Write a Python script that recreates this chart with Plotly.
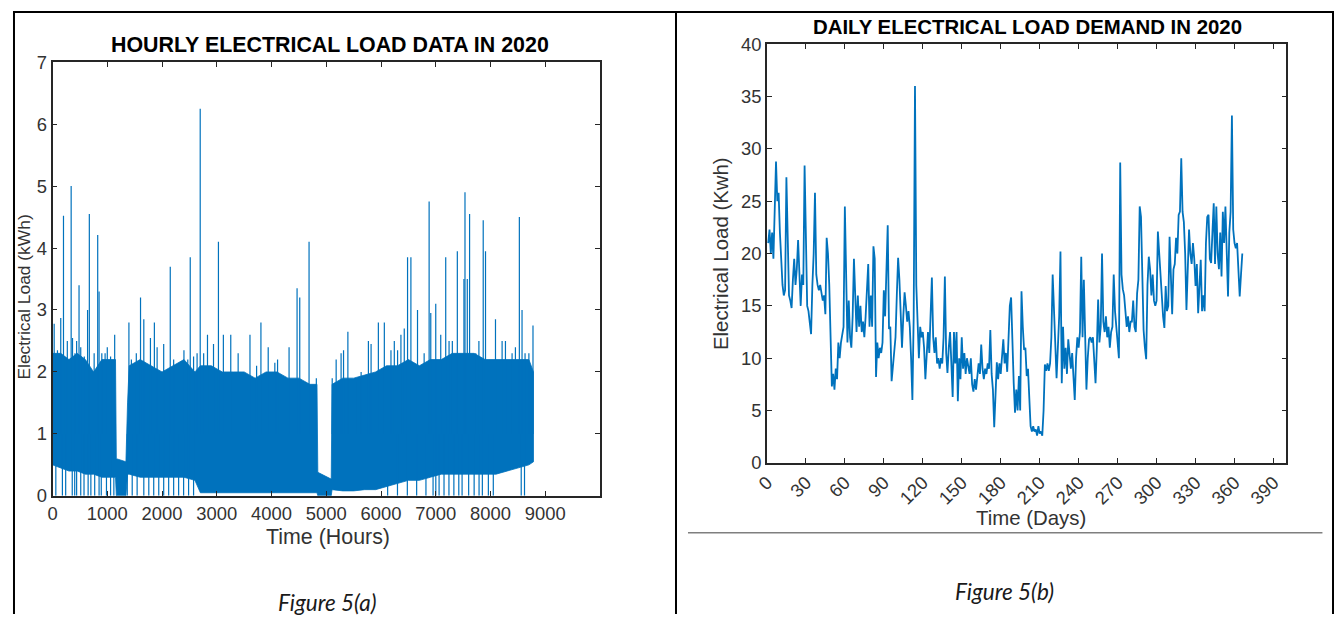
import plotly.graph_objects as go

# Observed capture: the page body keeps its default margin and the captured view is
# about 1350x640 before it is scaled to 1338x619, so target (picture) pixels are
# mapped back through that transform when positioning elements.
PAD = 8
VIEW_W, VIEW_H = 1350, 640
SX, SY = 1338 / VIEW_W, 619 / VIEW_H
SHIFT_X, SHIFT_Y = 4.5, 3.0   # residual offset measured on an earlier picture
W, H = VIEW_W - 2 * PAD, VIEW_H - 2 * PAD
FS = 2 / (SX + SY)  # font compensation for the final scaling

BLUE = "#0072BD"
AX = "#262626"
FONT = "Liberation Sans, Arial, sans-serif"

# ---------------- Figure 5(a): hourly load ----------------
band_hours = [0, 150, 300, 450, 600, 750, 900, 1050, 1150,
              1165, 1340, 1370, 1400,
              1600, 1800, 2000, 2200, 2400, 2600,
              2700, 2900, 3100, 3300, 3500, 3700, 3900, 4100, 4300, 4500, 4700,
              4830, 4845, 5090, 5105,
              5300, 5500, 5700, 5900, 6100, 6300, 6500, 6700, 6900,
              7100, 7300, 7500, 7700, 7900, 8100, 8300, 8500, 8700, 8784]
band_top = [2.3, 2.3, 2.2, 2.3, 2.2, 2.0, 2.2, 2.2, 2.2,
            0.6, 0.55, 1.5, 2.1,
            2.2, 2.1, 2.0, 2.1, 2.2, 2.0,
            2.1, 2.1, 2.0, 2.0, 2.0, 1.9, 2.0, 2.0, 1.9, 1.9, 1.8,
            1.8, 0.38, 0.27, 1.8,
            1.9, 1.9, 1.95, 2.0, 2.1, 2.1, 2.2, 2.1, 2.2,
            2.2, 2.3, 2.3, 2.3, 2.2, 2.2, 2.2, 2.2, 2.2, 2.0]
band_bottom = [0.5, 0.45, 0.4, 0.4, 0.35, 0.35, 0.3, 0.3, 0.3,
               0.0, 0.0, 0.35, 0.35,
               0.3, 0.3, 0.3, 0.3, 0.3, 0.25,
               0.05, 0.05, 0.05, 0.05, 0.05, 0.05, 0.05, 0.05, 0.05, 0.05, 0.05,
               0.05, 0.0, 0.0, 0.1,
               0.08, 0.08, 0.1, 0.1, 0.15, 0.2, 0.25, 0.25, 0.3,
               0.35, 0.35, 0.35, 0.35, 0.35, 0.35, 0.4, 0.45, 0.5, 0.55]

spike_hours = [30, 90, 150, 200, 270, 340, 365, 410, 440, 484, 515, 580, 640, 672, 760,
               825, 850, 900, 960, 1000, 1060, 1135,
               1395, 1440, 1530, 1607, 1667, 1727, 1788, 1860, 1910, 2030, 2150, 2212,
               2400, 2470, 2515, 2576, 2640, 2697, 2760, 2830, 2940, 3030, 3120, 3255,
               3390, 3606, 3727, 3806, 3939, 4060, 4110, 4320, 4466, 4515, 4685, 4818,
               5108, 5180, 5270, 5315, 5394, 5545, 5636, 5769, 5818, 5951, 6060, 6181,
               6242, 6302, 6363, 6424, 6484, 6545, 6666, 6787, 6878, 6908, 6999, 7090,
               7181, 7242, 7302, 7393, 7514, 7533, 7575, 7617, 7730, 7787, 7866, 7908,
               8090, 8211, 8272, 8393, 8454, 8526, 8575, 8630, 8700, 8775]
spike_peaks = [2.78, 2.35, 2.87, 4.52, 2.5, 5.0, 2.55, 2.3, 2.5, 3.4, 2.4, 2.25, 3.0, 4.55, 2.3,
               4.21, 3.3, 2.3, 2.3, 2.4, 2.25, 2.6,
               2.8, 2.2, 2.3, 3.2, 2.85, 2.1, 2.55, 2.8, 2.4, 2.45, 3.7, 2.2,
               2.35, 2.2, 3.85, 2.25, 2.3, 6.25, 2.3, 2.6, 2.45, 4.1, 2.6, 2.6,
               2.3, 2.6, 2.1, 2.8, 2.4, 2.15, 2.2, 2.4, 3.35, 3.2, 4.1, 1.9,
               1.9, 2.2, 2.3, 2.35, 2.65, 1.85, 2.0, 2.5, 2.45, 2.8, 2.8, 2.35,
               2.5, 2.35, 2.6, 2.7, 3.85, 3.85, 3.0, 2.3, 4.75, 2.95, 3.1, 2.6,
               3.85, 2.5, 2.5, 3.95, 3.5, 4.9, 3.5, 4.55, 2.3, 2.5, 4.45, 3.95,
               2.85, 2.5, 2.5, 2.3, 2.4, 4.5, 3.0, 2.3, 2.3, 2.75]

dip_hours = [60, 180, 240, 360, 405, 440, 515, 575, 650, 700, 770, 850, 890, 985, 1060, 1120,
             1365, 1455, 1545, 1667, 1758, 1848, 1940, 2030, 2121, 2212, 2303, 2394, 2485, 2576,
             6120, 6300, 6480, 6650, 6820, 6950,
             7000, 7060, 7150, 7240, 7330, 7420, 7480, 7600, 7700, 7790, 7850, 7960, 8050,
             8560, 8620]

hour_ticks = [0, 1000, 2000, 3000, 4000, 5000, 6000, 7000, 8000, 9000]
hourly_yticks = [0, 1, 2, 3, 4, 5, 6, 7]

# ---------------- Figure 5(b): daily load ----------------
daily_load = [
    21.0, 22.3, 20.0, 22.0, 19.5, 24.0, 28.8, 25.0, 25.8, 22.0,
    18.5, 17.0, 16.0, 16.5, 27.3, 20.0, 16.0, 15.5, 14.8, 17.5,
    19.5, 17.0, 18.5, 21.3, 17.5, 15.0, 18.0, 17.0, 28.4, 20.0,
    15.0, 14.5, 13.5, 12.3, 17.0, 20.0, 25.8, 18.0, 17.0, 16.5,
    17.0, 16.0, 15.5, 16.0, 14.2, 21.5, 20.0, 17.0, 12.0, 7.3,
    8.5, 7.0, 9.0, 8.0, 11.5, 10.0, 11.5, 12.5, 13.0, 24.5,
    18.0, 11.5, 15.5, 12.0, 11.0, 14.0, 19.5, 16.0, 12.5, 16.0,
    13.0, 15.0, 12.5, 13.5, 12.0, 14.0, 17.0, 19.0, 13.0, 16.0,
    13.0, 20.7, 19.5, 8.2, 11.5, 10.0, 11.0, 10.5, 11.5, 16.5,
    14.0, 17.5, 22.7, 12.8, 13.0, 7.8, 9.5, 10.5, 12.0, 16.0,
    19.6, 17.5, 13.5, 11.0, 14.0, 16.3, 15.0, 13.5, 14.5, 13.0,
    10.0, 6.0, 14.0, 36.0, 17.0, 12.5, 10.0, 13.0, 12.0, 12.5,
    11.0, 8.0, 11.0, 12.5, 10.5, 13.5, 17.7, 12.0, 10.5, 12.0,
    9.5, 10.0, 9.0, 10.0, 9.5, 12.0, 17.8, 10.5, 8.6, 11.0,
    12.5, 9.5, 6.3, 12.5, 9.5, 12.5, 5.9, 10.0, 8.0, 12.0,
    9.0, 10.5, 8.5, 10.0, 9.0, 8.5, 10.0, 7.5, 6.8, 8.0,
    7.0, 8.0, 9.5, 8.5, 11.3, 9.0, 8.0, 9.0, 8.5, 9.5,
    9.0, 12.7, 8.5, 7.0, 3.4, 6.5, 9.6, 8.0, 9.5, 8.5,
    10.0, 11.8, 9.5, 10.5, 8.7, 12.0, 15.0, 15.8, 11.0, 7.6,
    4.8, 7.0, 5.0, 8.3, 5.0, 16.4, 13.0, 10.8, 11.0, 8.3,
    9.0, 6.0, 3.5, 3.0, 3.5, 3.0, 3.2, 2.6, 3.5, 2.8,
    3.0, 2.6, 5.0, 9.4, 8.8, 9.5, 8.8, 9.5, 12.0, 18.0,
    14.5, 12.0, 8.1, 11.0, 14.0, 20.2, 7.6, 13.0, 9.0, 11.0,
    8.5, 11.8, 10.0, 9.0, 10.5, 8.5, 6.0, 10.0, 12.0, 11.0,
    12.5, 19.7, 12.0, 17.5, 11.0, 7.0, 10.0, 11.8, 12.0, 11.5,
    12.0, 9.5, 7.6, 11.0, 15.6, 11.5, 13.0, 20.0, 13.5, 12.5,
    14.0, 12.0, 13.0, 11.0, 12.5, 13.0, 18.0, 14.5, 13.0, 11.5,
    10.0, 28.7, 18.0, 16.6, 16.0, 14.5, 13.0, 14.0, 12.5, 13.5,
    13.5, 15.5, 13.0, 12.5, 16.2, 17.5, 24.5, 23.5, 18.0, 12.7,
    11.0, 9.9, 17.0, 19.7, 18.5, 16.0, 18.0, 15.5, 15.0, 15.5,
    22.1, 20.0, 19.0, 17.0, 14.0, 12.9, 16.9, 14.5, 15.0, 21.6,
    17.0, 14.2, 18.5, 19.0, 21.5, 20.0, 23.7, 24.0, 29.1, 24.0,
    23.0, 20.0, 14.6, 19.0, 22.3, 20.0, 19.0, 21.0, 19.5, 16.9,
    19.0, 14.3, 17.0, 19.4, 14.5, 16.0, 14.5, 21.0, 23.5, 23.7,
    19.5, 19.1, 22.0, 24.8, 19.0, 24.5, 20.0, 18.5, 22.0, 17.8,
    24.0, 21.0, 24.5, 20.0, 15.9, 22.0, 24.0, 33.2, 22.3, 21.0,
    20.5, 21.0, 18.5, 15.9, 18.0, 20.0,
]
days = list(range(1, len(daily_load) + 1))
day_ticks = list(range(0, 391, 30))
daily_yticks = list(range(0, 41, 5))

# ---------------- position helpers (target picture pixels -> paper) ----------------
def px(X):
    return min(max(((X - SHIFT_X) / SX - PAD) / W, 0.0), 1.0)

def py(Y):
    return min(max(1 - ((Y - SHIFT_Y) / SY - PAD) / H, 0.0), 1.0)

def fs(size):
    return round(size * FS, 1)

fig = go.Figure()

# hourly band (dense region of the hourly line)
fig.add_trace(go.Scatter(
    x=band_hours + band_hours[::-1],
    y=band_top + band_bottom[::-1],
    fill="toself", fillcolor=BLUE, mode="lines",
    line=dict(color=BLUE, width=0.8),
    xaxis="x", yaxis="y", hoverinfo="skip", showlegend=False))

sx, sy = [], []
for h, p in zip(spike_hours, spike_peaks):
    sx += [h, h, None]
    sy += [1.0, p, None]
for h in dip_hours:
    sx += [h, h, None]
    sy += [0.0, 1.0, None]
fig.add_trace(go.Scatter(x=sx, y=sy, mode="lines",
                         line=dict(color=BLUE, width=1.2),
                         xaxis="x", yaxis="y", showlegend=False))

# daily line
fig.add_trace(go.Scatter(x=days, y=daily_load, mode="lines",
                         line=dict(color=BLUE, width=1.8),
                         xaxis="x2", yaxis="y2", showlegend=False))

axis_common = dict(
    showgrid=False, zeroline=False, showline=True, linecolor=AX, linewidth=1.5,
    mirror="ticks", ticks="inside", ticklen=5, tickwidth=1.3, tickcolor=AX,
    tickfont=dict(family=FONT, size=fs(18), color="#333333"),
)

fig.update_layout(
    width=W, height=H,
    margin=dict(l=0, r=0, t=0, b=0),
    paper_bgcolor="white", plot_bgcolor="white",
    showlegend=False,
    xaxis=dict(domain=[px(52), px(600)], range=[0, 10000],
               tickmode="array", tickvals=hour_ticks, anchor="y", **axis_common),
    yaxis=dict(domain=[py(496), py(62)], range=[0, 7],
               tickmode="array", tickvals=hourly_yticks, anchor="x", **axis_common),
    xaxis2=dict(domain=[px(767), px(1287)], range=[0, 400],
                tickmode="array", tickvals=day_ticks, tickangle=-45, anchor="y2", **axis_common),
    yaxis2=dict(domain=[py(463), py(44)], range=[0, 40],
                tickmode="array", tickvals=daily_yticks, anchor="x2", **axis_common),
)

def ann(text, x, y, size, color="#000000", angle=0, bold=False, italic=False, family=FONT):
    fig.add_annotation(
        text=f"<b>{text}</b>" if bold else text,
        x=px(x), y=py(y), xref="paper", yref="paper",
        showarrow=False, textangle=angle, xanchor="center", yanchor="middle",
        font=dict(family=family, size=fs(size), color=color,
                  style="italic" if italic else "normal"))

ann("HOURLY ELECTRICAL LOAD DATA IN 2020", 330, 45, 21, bold=True)
ann("DAILY ELECTRICAL LOAD DEMAND IN 2020", 1028, 27, 20, bold=True)
ann("Electrical Load (kWh)", 23, 297, 17, color="#333333", angle=-90)
ann("Time (Hours)", 328, 537, 21, color="#333333")
ann("Electrical Load (Kwh)", 721, 253, 20, color="#333333", angle=-90)
ann("Time (Days)", 1031, 518, 20, color="#333333")
ann("Figure 5(a)", 327, 603, 22, color="#1a1a1a", italic=True, family="Lato")
ann("Figure 5(b)", 1005, 592, 22, color="#1a1a1a", italic=True, family="Lato")

# table frame
shape_line = dict(color="black", width=2)
fig.add_shape(type="line", xref="paper", yref="paper", x0=0, x1=1, y0=1 - 1 / H, y1=1 - 1 / H, line=shape_line)
fig.add_shape(type="line", xref="paper", yref="paper", x0=1 / W, x1=1 / W, y0=0, y1=1, line=shape_line)
fig.add_shape(type="line", xref="paper", yref="paper", x0=px(676), x1=px(676), y0=0, y1=1, line=shape_line)
fig.add_shape(type="line", xref="paper", yref="paper", x0=1 - 1 / W, x1=1 - 1 / W, y0=0, y1=1, line=shape_line)
fig.add_shape(type="line", xref="paper", yref="paper", x0=px(688), x1=px(1323), y0=py(533), y1=py(533),
              line=dict(color="#7f7f7f", width=1.5))

fig.write_html("out.html")
